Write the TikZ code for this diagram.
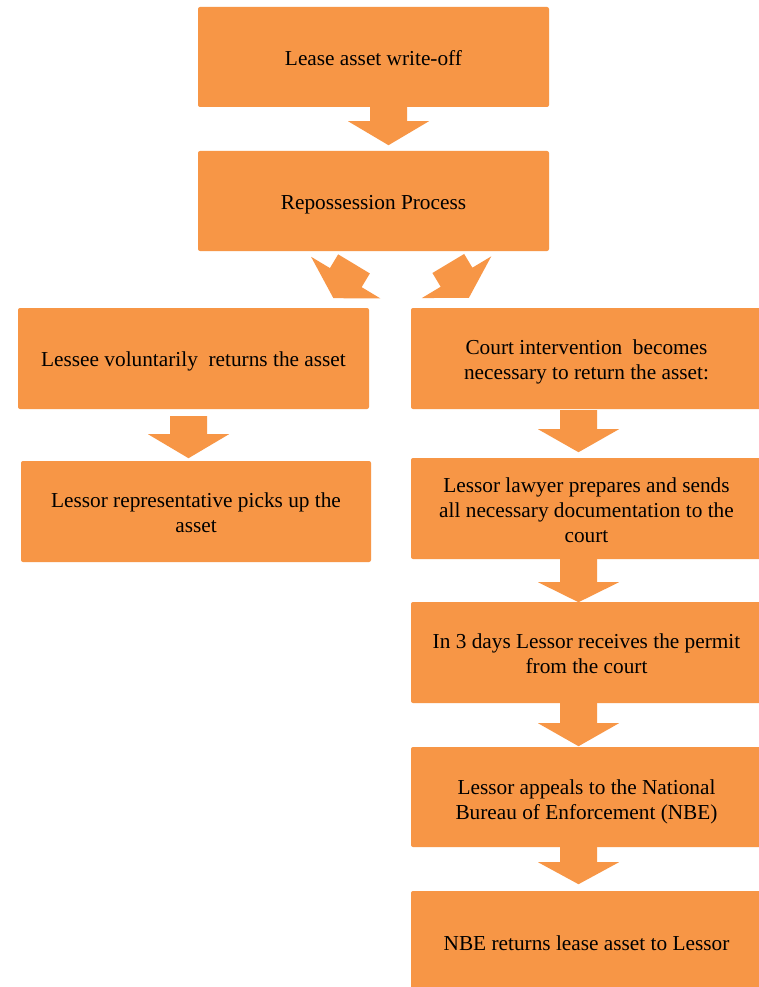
\documentclass[tikz,border=0pt]{standalone}
\usepackage{fontspec}
\setmainfont{Liberation Serif}
\usetikzlibrary{calc}
\definecolor{boxorange}{HTML}{F79646}
\tikzset{
  stepbox/.style={fill=boxorange, rounded corners=2pt, minimum width=351pt,
    minimum height=100pt, inner sep=0pt},
  steptext/.style={inner sep=0pt, align=center, text=black,
    font=\fontsize{21.3}{25}\selectfont},
  % block arrow pointing down: #1 = shaft length, #2 = head length
  pics/blockarrow/.style 2 args={code={
    \fill[boxorange] (-18.5,0) -- (18.5,0) -- (18.5,#1) -- (40.5,#1)
      -- (0,#1+#2) -- (-40.5,#1) -- (-18.5,#1) -- cycle;
  }}
}
\begin{document}
\begin{tikzpicture}[x=1pt, y=-1pt]
\clip (0,0) rectangle (759,987);
\fill[white] (0,0) rectangle (759,987);

% boxes
\node[stepbox] (b1) at (373.5,57) {};
\node[stepbox] (b2) at (373.5,201) {};
\node[stepbox, minimum height=101pt] (b3) at (193.5,358.5) {};
\node[stepbox, minimum width=350pt, minimum height=101pt] (b5) at (196,511.5) {};
\node[stepbox, minimum height=101pt] (b4) at (586.5,358.5) {};
\node[stepbox, minimum height=101pt] (b6) at (586.5,508.5) {};
\node[stepbox, minimum height=101pt] (b7) at (586.5,652.5) {};
\node[stepbox] (b8) at (586.5,797) {};
\node[stepbox] (b9) at (586.5,941) {};

% box texts
\node[steptext] (t1) at ($(b1.center)+(0,1)$) {Lease asset write-off};
\node[steptext] (t2) at ($(b2.center)+(0,4)$) {Repossession Process};
\node[steptext] (t3) at ($(b3.center)+(0,3)$) {Lessee voluntarily~ returns the asset};
\node[steptext] (t5) at ($(b5.center)+(0,1)$) {Lessor representative picks up the\\asset};
\node[steptext] (t4) at ($(b4.center)+(0,3)$) {Court intervention~ becomes\\necessary to return the asset:};
\node[steptext] (t6) at ($(b6.center)+(0,2)$) {Lessor lawyer prepares and sends\\all necessary documentation to the\\court};
\node[steptext] (t7) at ($(b7.center)+(0,1.5)$) {In 3 days Lessor receives the permit\\from the court};
\node[steptext] (t8) at ($(b8.center)+(0,4.5)$) {Lessor appeals to the National\\Bureau of Enforcement (NBE)};
\node[steptext] (t9) at ($(b9.center)+(0,2.5)$) {NBE returns lease asset to Lessor};

% connectors
\pic at ($(b1.south)+(15,0)$) {blockarrow={14}{24}};
\pic[rotate=-31] at ($(b2.south)+(-19.5,12.7)$) {blockarrow={16}{24}};
\pic[rotate=31] at ($(b2.south)+(74.8,12.3)$) {blockarrow={16}{24}};
\pic at ($(b3.south)+(-5,7)$) {blockarrow={18}{24}};
\pic at ($(b4.south)+(-8,1)$) {blockarrow={19}{23}};
\pic at ($(b6.south)+(-8,0)$) {blockarrow={23}{20}};
\pic at ($(b7.south)+(-8,0)$) {blockarrow={20}{23}};
\pic at ($(b8.south)+(-8,0)$) {blockarrow={15}{22}};
\end{tikzpicture}
\end{document}
